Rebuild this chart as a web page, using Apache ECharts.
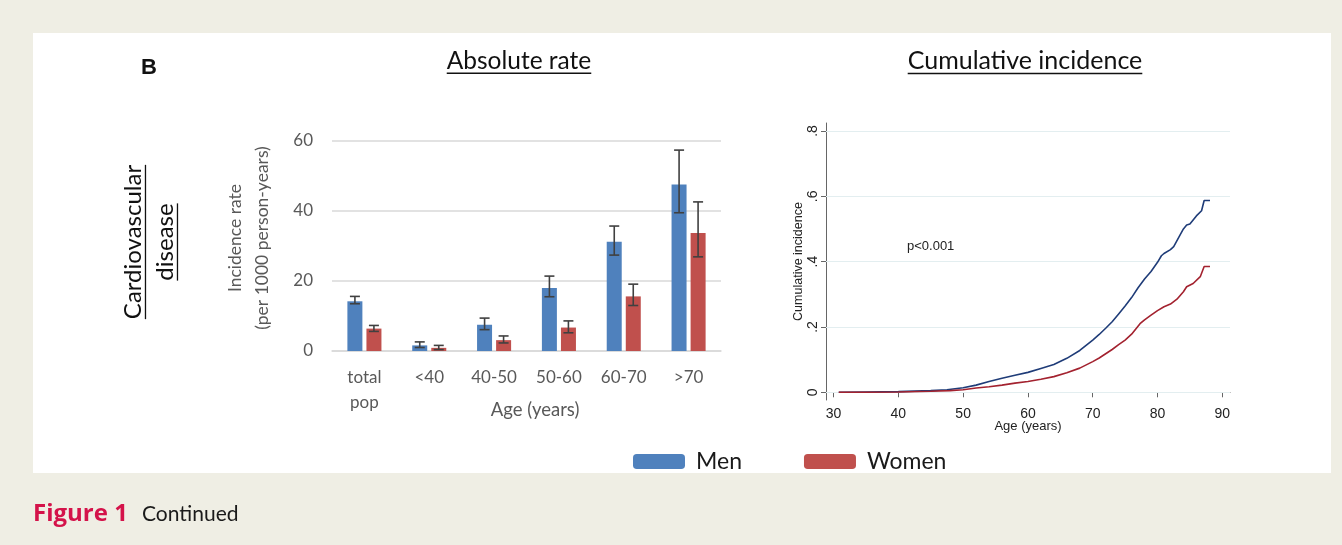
<!DOCTYPE html>
<html>
<head>
<meta charset="utf-8">
<script src="https://cdn.jsdelivr.net/npm/echarts@6/dist/echarts.min.js"></script>
<style>
  html, body { margin: 0; padding: 0; background: #efeee4; }
  #chart { width: 1342px; height: 545px; }
</style>
</head>
<body>
<div id="chart"></div>
<script>
// Absolute incidence rate by age group (per 1000 person-years)
const ageGroups = ['total\npop', '<40', '40-50', '50-60', '60-70', '>70'];
const menRate   = [14.2, 1.6, 7.5, 18.0, 31.2, 47.6];
const menLow    = [13.5, 1.0, 6.1, 15.5, 27.4, 39.5];
const menHigh   = [15.6, 2.6, 9.4, 21.4, 35.7, 57.4];
const womenRate = [6.4, 0.9, 3.1, 6.7, 15.6, 33.7];
const womenLow  = [5.6, 0.4, 2.3, 5.2, 13.0, 26.9];
const womenHigh = [7.3, 1.6, 4.3, 8.6, 19.1, 42.6];
const rateTicks = [0, 20, 40, 60];

// Cumulative incidence by attained age: [age, cumulative incidence]
const menCumulative = [
  [30.8, 0], [35, 0.001], [40, 0.002], [45, 0.005], [47.5, 0.008], [50, 0.014],
  [52, 0.022], [54, 0.033], [56, 0.043], [58, 0.052], [60, 0.061], [62, 0.073],
  [64, 0.085], [66, 0.104], [68, 0.128], [70, 0.160], [71, 0.177], [72, 0.196],
  [73, 0.216], [74, 0.240], [75, 0.264], [76, 0.290], [77, 0.320], [78, 0.347],
  [79, 0.370], [80, 0.398], [80.6, 0.418], [81, 0.425], [82, 0.437],
  [82.5, 0.446], [83.3, 0.475], [84, 0.500], [84.5, 0.512], [85, 0.515],
  [86, 0.540], [86.8, 0.556], [87.2, 0.587], [88.1, 0.587]
];
const womenCumulative = [
  [30.8, 0], [35, 0], [40, 0.001], [45, 0.003], [48, 0.005], [50, 0.008],
  [52, 0.013], [54, 0.017], [56, 0.022], [58, 0.028], [60, 0.033], [62, 0.040],
  [64, 0.048], [66, 0.060], [68, 0.074], [70, 0.094], [71, 0.105], [72, 0.118],
  [73, 0.131], [74, 0.146], [75, 0.160], [76, 0.178], [77.3, 0.210], [78, 0.222],
  [79, 0.236], [80, 0.250], [81, 0.262], [82, 0.270], [83, 0.285], [84, 0.308],
  [84.5, 0.323], [85.5, 0.333], [86.6, 0.354], [87.2, 0.385], [88.1, 0.385]
];
const ageTicks = [30, 40, 50, 60, 70, 80, 90];
const cumTicks = [0, 0.2, 0.4, 0.6, 0.8];

const menBarColor = '#4f81bd';
const womenBarColor = '#c0504d';
const menLineColor = '#1f3c78';
const womenLineColor = '#a3222f';
const calibriLike = 'Lato, "Open Sans", sans-serif';
const arialLike = '"Liberation Sans", Arial, sans-serif';

// measure text width to place underlines
const measureCtx = document.createElement('canvas').getContext('2d');
function textWidth(text, font) { measureCtx.font = font; return measureCtx.measureText(text).width; }

function underlinedTitle(text, cx, cy, size) {
  const font = size + 'px ' + calibriLike;
  const w = textWidth(text, font);
  const uy = cy + size * 0.5;
  return [
    { type: 'text', x: cx, y: cy, style: { text: text, font: font, fill: '#111', align: 'center', verticalAlign: 'middle' } },
    { type: 'line', shape: { x1: cx - w / 2, y1: uy, x2: cx + w / 2, y2: uy }, style: { stroke: '#111', lineWidth: 1.3 } }
  ];
}

function rotatedUnderlined(text, cx, cy, size) {
  const font = size + 'px ' + calibriLike;
  const w = textWidth(text, font);
  const ux = cx + size * 0.52;
  return [
    { type: 'text', x: cx, y: cy, rotation: Math.PI / 2, style: { text: text, font: font, fill: '#111', align: 'center', verticalAlign: 'middle' } },
    { type: 'line', shape: { x1: ux, y1: cy - w / 2, x2: ux, y2: cy + w / 2 }, style: { stroke: '#111', lineWidth: 1.3 } }
  ];
}

function errorBars(low, high, side) {
  return {
    type: 'custom',
    name: side < 0 ? 'Men' : 'Women',
    xAxisIndex: 0, yAxisIndex: 0,
    z: 5,
    encode: { x: 0, y: [1, 2] },
    data: low.map((v, i) => [i, v, high[i]]),
    renderItem: function (params, api) {
      const lo = api.coord([api.value(0), api.value(1)]);
      const hi = api.coord([api.value(0), api.value(2)]);
      const x = lo[0] + side * 9.5;
      const cap = 5;
      const st = { stroke: '#404040', lineWidth: 1.6 };
      return {
        type: 'group',
        children: [
          { type: 'line', shape: { x1: x, y1: lo[1], x2: x, y2: hi[1] }, style: st },
          { type: 'line', shape: { x1: x - cap, y1: lo[1], x2: x + cap, y2: lo[1] }, style: st },
          { type: 'line', shape: { x1: x - cap, y1: hi[1], x2: x + cap, y2: hi[1] }, style: st }
        ]
      };
    }
  };
}

const chart = echarts.init(document.getElementById('chart'), null, { renderer: 'canvas' });

const graphics = [
  { type: 'rect', z: -10, shape: { x: 33, y: 33, width: 1298, height: 440 }, style: { fill: '#ffffff' } },
  { type: 'text', x: 149, y: 68, style: { text: 'B', font: 'bold 22px ' + arialLike, fill: '#111', align: 'center', verticalAlign: 'middle' } },
  ...rotatedUnderlined('Cardiovascular', 133, 242, 24),
  ...rotatedUnderlined('disease', 165, 242, 24),
  ...underlinedTitle('Absolute rate', 519, 61, 24.5),
  ...underlinedTitle('Cumulative incidence', 1025, 61, 25),
  { type: 'text', x: 235, y: 238, rotation: Math.PI / 2, style: { text: 'Incidence rate', font: '17.5px ' + calibriLike, fill: '#595959', align: 'center', verticalAlign: 'middle' } },
  { type: 'text', x: 262, y: 238, rotation: Math.PI / 2, style: { text: '(per 1000 person-years)', font: '17.5px ' + calibriLike, fill: '#595959', align: 'center', verticalAlign: 'middle' } },
  { type: 'text', x: 535, y: 410, style: { text: 'Age (years)', font: '18.5px ' + calibriLike, fill: '#595959', align: 'center', verticalAlign: 'middle' } },
  { type: 'text', x: 1028, y: 426, style: { text: 'Age (years)', font: '13px ' + arialLike, fill: '#222', align: 'center', verticalAlign: 'middle' } },
  { type: 'text', x: 907, y: 246, style: { text: 'p<0.001', font: '13px ' + arialLike, fill: '#222', align: 'left', verticalAlign: 'middle' } },
  { type: 'text', x: 33, y: 514, style: { text: 'Figure 1', font: 'bold 24px "Open Sans", sans-serif', fill: '#d4134a', align: 'left', verticalAlign: 'middle' } },
  { type: 'text', x: 142, y: 514, style: { text: 'Continued', font: '21px ' + calibriLike, fill: '#1a1a1a', align: 'left', verticalAlign: 'middle' } }
];

const option = {
  backgroundColor: '#efeee4',
  animation: false,
  graphic: graphics,
  legend: {
    left: 628, top: 445,
    itemWidth: 52, itemHeight: 15, itemGap: 62,
    icon: 'roundRect',
    textStyle: { fontFamily: calibriLike, fontSize: 23, color: '#1a1a1a', padding: [0, 0, 0, 6] },
    data: [
      { name: 'Men', itemStyle: { color: menBarColor } },
      { name: 'Women', itemStyle: { color: womenBarColor } }
    ]
  },
  grid: [
    { left: 332, top: 141, width: 389, height: 210 },
    { left: 826, top: 123, width: 404, height: 277 }
  ],
  xAxis: [
    {
      type: 'category', gridIndex: 0, data: ageGroups,
      axisLine: { lineStyle: { color: '#d9d9d9', width: 1.5 } },
      axisTick: { show: false },
      axisLabel: { color: '#595959', fontFamily: calibriLike, fontSize: 17, lineHeight: 25, margin: 14 }
    },
    {
      type: 'value', gridIndex: 1, min: 28.83, max: 91.19,
      axisLine: { lineStyle: { color: '#666', width: 1 } },
      axisTick: { customValues: ageTicks, length: 5, lineStyle: { color: '#666' } },
      axisLabel: { customValues: ageTicks, color: '#222', fontFamily: arialLike, fontSize: 14, margin: 7 },
      splitLine: { show: false }
    }
  ],
  yAxis: [
    {
      type: 'value', gridIndex: 0, min: 0, max: 60, interval: 20,
      axisLine: { show: false }, axisTick: { show: false },
      axisLabel: { color: '#595959', fontFamily: calibriLike, fontSize: 17, margin: 19,
                   customValues: rateTicks },
      splitLine: { lineStyle: { color: '#d9d9d9', width: 1.5 } }
    },
    {
      type: 'value', gridIndex: 1, min: -0.0236, max: 0.8245,
      name: 'Cumulative incidence', nameLocation: 'middle', nameGap: 21,
      nameTextStyle: { fontFamily: arialLike, fontSize: 12.5, color: '#222' },
      axisLine: { show: true, lineStyle: { color: '#666', width: 1 } },
      axisTick: { show: true, customValues: cumTicks, length: 5, lineStyle: { color: '#666' } },
      axisLabel: {
        customValues: cumTicks, rotate: 90, color: '#222', fontFamily: arialLike, fontSize: 14, margin: 6,
        formatter: v => v === 0 ? '0' : String(Math.round(v * 10) / 10).replace(/^0/, '')
      },
      splitLine: { show: false }
    }
  ],
  series: [
    {
      name: 'Men', type: 'bar', xAxisIndex: 0, yAxisIndex: 0,
      data: menRate, barWidth: 15, barGap: '27%',
      itemStyle: { color: menBarColor }
    },
    {
      name: 'Women', type: 'bar', xAxisIndex: 0, yAxisIndex: 0,
      data: womenRate, barWidth: 15, barGap: '27%',
      itemStyle: { color: womenBarColor }
    },
    errorBars(menLow, menHigh, -1),
    errorBars(womenLow, womenHigh, 1),
    {
      // faint horizontal gridlines of the cumulative-incidence panel, kept beneath the curves
      name: 'grid', type: 'line', xAxisIndex: 1, yAxisIndex: 1, data: [], z: 1,
      markLine: {
        z: 1,
        silent: true, symbol: 'none', label: { show: false },
        lineStyle: { color: '#e3eef0', width: 1, type: 'solid' },
        data: cumTicks.map(v => ({ yAxis: v }))
      }
    },
    {
      name: 'Men', type: 'line', xAxisIndex: 1, yAxisIndex: 1,
      data: menCumulative, showSymbol: false,
      lineStyle: { color: menLineColor, width: 1.6 },
      itemStyle: { color: menLineColor },
      z: 3
    },
    {
      name: 'Women', type: 'line', xAxisIndex: 1, yAxisIndex: 1,
      data: womenCumulative, showSymbol: false,
      lineStyle: { color: womenLineColor, width: 1.6 },
      itemStyle: { color: womenLineColor },
      z: 4
    }
  ]
};

chart.setOption(option);
</script>
</body>
</html>
